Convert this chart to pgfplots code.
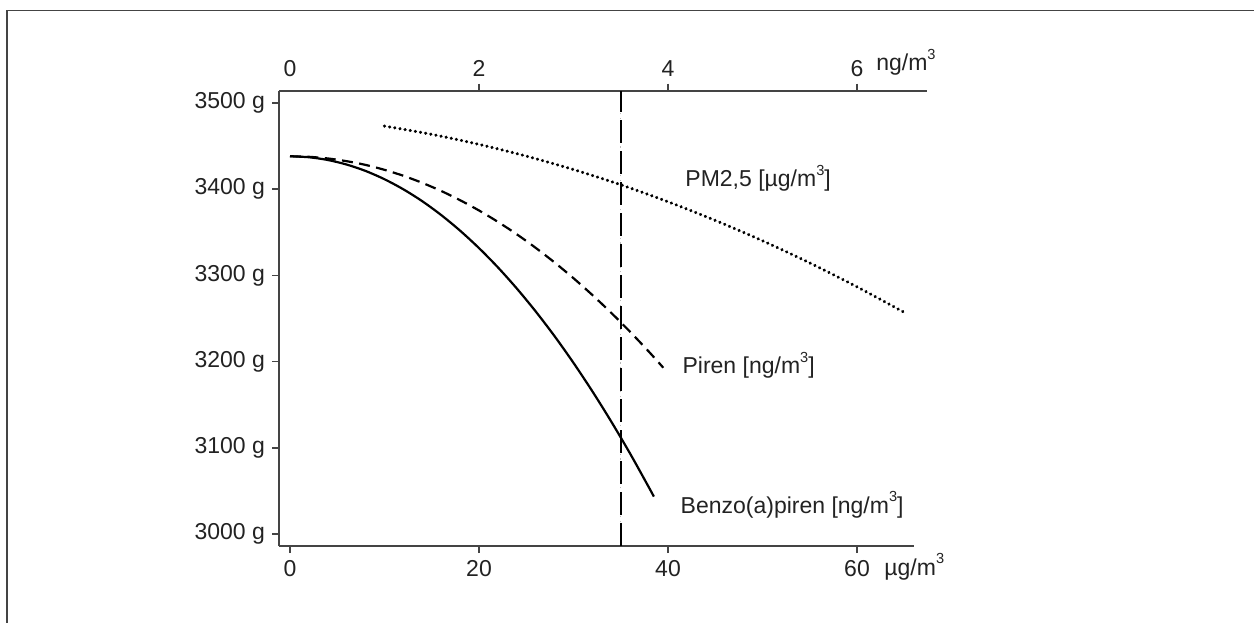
\documentclass[border=0pt]{standalone}
\usepackage{fontspec}
\setmainfont{Liberation Sans}
\usepackage{pgfplots}
\pgfplotsset{compat=1.18}
\definecolor{axgray}{HTML}{444444}
\definecolor{txt}{HTML}{222222}
\newcommand{\cube}{\raisebox{0.95ex}{\fontsize{7.3}{7.3}\selectfont 3}}
\newcommand{\lblfont}{\fontsize{11.5}{13.5}\selectfont}
\begin{document}
\begin{tikzpicture}
\useasboundingbox (0,0) rectangle (627pt,311pt);
\draw[axgray, line width=0.8pt] (3.4pt,-2pt) -- (3.4pt,305.8pt) -- (630pt,305.8pt);
% top axis (ng/m3)
\begin{axis}[
  at={(139.5pt,38pt)}, anchor=south west,
  scale only axis, width=324pt, height=227.65pt,
  xmin=-0.1164, xmax=6.741, ymin=0, ymax=1,
  axis x line*=top, axis y line=none,
  axis line style={axgray, line width=1pt},
  tick align=outside, major tick length=3.5pt,
  tick style={axgray, line width=0.8pt},
  xtick={2,4,6}, xticklabels={2,4,6},
  extra x ticks={0}, extra x tick labels={0},
  extra x tick style={tick style={draw=none}},
  ticklabel style={font=\lblfont, text=txt},
  clip=false,
]
\node[anchor=base west, font=\lblfont, text=txt, inner sep=0pt] at (axis cs:6.2,1.0439) {ng/m\cube};
\end{axis}
% main axis
\begin{axis}[
  at={(139.5pt,38pt)}, anchor=south west,
  scale only axis, width=317.5pt, height=227.65pt,
  xmin=-1.164, xmax=66.03, ymin=2986.44, ymax=3514,
  axis x line*=bottom, axis y line*=left,
  axis line style={axgray, line width=1pt},
  tick align=outside, major tick length=3.5pt,
  tick style={axgray, line width=0.8pt},
  xtick={0,20,40,60}, xticklabels={0,20,40,60},
  ytick={3000,3100,3200,3300,3400,3500},
  yticklabels={3000 g,3100 g,3200 g,3300 g,3400 g,3500 g},
  ticklabel style={font=\lblfont, text=txt},
  clip=false,
]
% vertical reference line at 35 ug/m3
\addplot[gray!55, line width=0.4pt, dash pattern=on 0.6pt off 1.8pt] coordinates {(35,2986.44) (35,3514)};
\addplot[black, line width=1.1pt, dash pattern=on 11.5pt off 4pt] coordinates {(35,2986.44) (35,3514)};
% Benzo(a)piren
\addplot[black, line width=1.1pt, smooth] coordinates {
(0,3438) (2,3436.9) (4,3433.7) (6,3428.4) (8,3421.0) (10,3411.4) (12,3399.7)
(14,3385.9) (16,3369.9) (18,3351.8) (20,3331.6) (22,3309.3) (24,3284.8)
(26,3258.2) (28,3229.5) (30,3198.6) (32,3165.6) (34,3130.5) (36,3093.3)
(38,3053.9) (38.5,3043.7)};
% Piren
\addplot[black, line width=1.1pt, smooth, dash pattern=on 5.5pt off 3.2pt] coordinates {
(0,3438) (2,3437.4) (4,3435.5) (6,3432.3) (8,3428.0) (10,3422.3) (12,3415.4)
(14,3407.2) (16,3397.8) (18,3387.1) (20,3375.2) (22,3362.0) (24,3347.6)
(26,3331.9) (28,3314.9) (30,3296.7) (32,3277.2) (34,3256.5) (36,3234.5)
(38,3211.3) (39.5,3193.0)};
% PM2,5
\addplot[black, line width=1.7pt, smooth, line cap=round, dash pattern=on 0.01pt off 2.6pt] coordinates {
(10,3473.0) (15,3463.4) (20,3451.8) (25,3438.2) (30,3422.6) (35,3405.0)
(40,3385.3) (45,3363.7) (50,3340.1) (55,3314.4) (60,3286.7) (65,3257.1)};
% labels
\node[anchor=west, font=\lblfont, text=txt, inner sep=0pt] at (axis cs:41.8,3412.5) {PM2,5 [µg/m\cube]};
\node[anchor=west, font=\lblfont, text=txt, inner sep=0pt] at (axis cs:41.5,3196) {Piren [ng/m\cube]};
\node[anchor=west, font=\lblfont, text=txt, inner sep=0pt] at (axis cs:41.3,3034) {Benzo(a)piren [ng/m\cube]};
\node[anchor=base west, font=\lblfont, text=txt, inner sep=0pt] at (axis cs:62.86,2952.8) {µg/m\cube};
\end{axis}
\end{tikzpicture}
\end{document}
